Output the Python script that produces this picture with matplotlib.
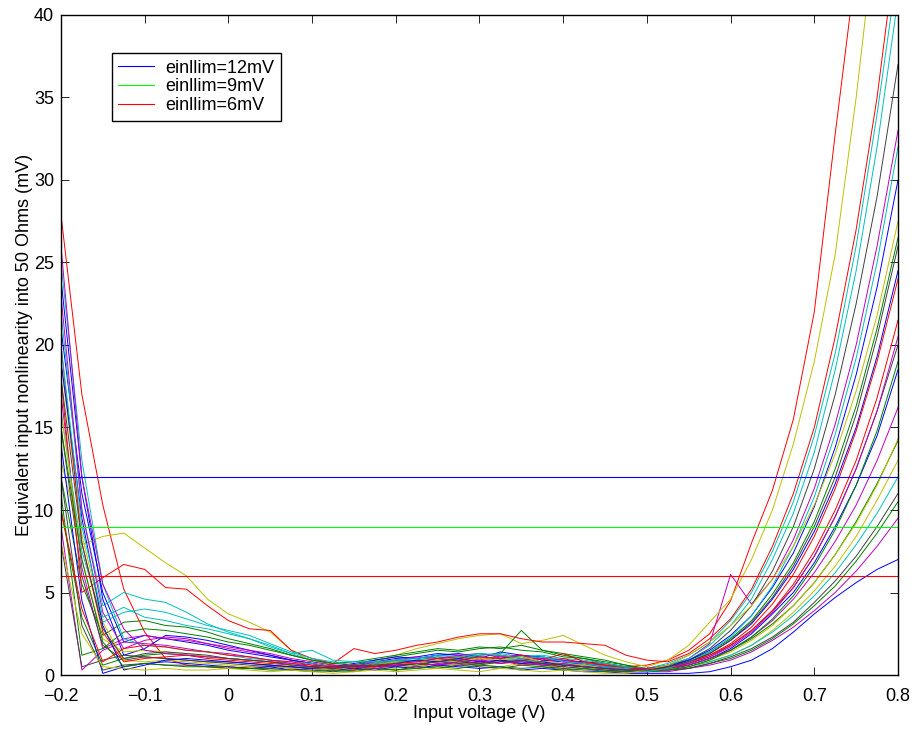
import matplotlib.pyplot as plt

plt.rcParams["font.family"] = ["Liberation Sans", "DejaVu Sans"]
plt.rcParams["font.size"] = 13

# input voltage grid (V)
voltage = [-0.2, -0.175, -0.15, -0.125, -0.1, -0.075, -0.05, -0.025, 0.0,
           0.025, 0.05, 0.075, 0.1, 0.125, 0.15, 0.175, 0.2, 0.225, 0.25,
           0.275, 0.3, 0.325, 0.35, 0.375, 0.4, 0.425, 0.45, 0.475,
           0.5, 0.525, 0.55, 0.575, 0.6, 0.625, 0.65, 0.675, 0.7, 0.725, 0.75, 0.775, 0.8]

# nonlinearity curves (mV), one per run
b1 = [21, 11, 5.0, 2.0, 2.4, 2.2, 2.0, 1.8, 1.5,
      1.3, 1.1, 0.9, 0.7, 0.5, 0.6, 0.8, 1.0, 1.1, 1.3, 1.2, 1.0, 1.4, 1.2, 1.1, 0.9, 0.8, 0.7, 0.5,
      0.3, 0.4, 0.8, 1.3, 2.1, 3.1, 4.6, 6.4, 8.7, 11.6, 15.0, 19.3, 24.5]
g1 = [12, 5.5, 2.4, 3.2, 3.3, 3.0, 2.9, 2.6, 2.2,
      1.9, 1.6, 1.2, 0.9, 0.7, 0.6, 0.9, 1.1, 1.3, 1.5, 1.4, 1.6, 1.7, 1.5, 1.4, 1.1, 1.0, 0.8, 0.6,
      0.4, 0.6, 0.9, 1.4, 2.2, 3.3, 4.9, 6.8, 9.3, 12.5, 16.3, 21.0, 26.5]
r1 = [27.9, 17, 10.3, 5.2, 2.6, 1.0, 0.6, 0.5, 0.4,
      0.5, 0.6, 0.4, 0.5, 0.4, 0.3, 0.5, 0.6, 0.7, 0.6, 0.8, 0.7, 0.9, 0.6, 0.7, 0.5, 0.8, 0.6, 0.5,
      0.6, 0.9, 1.5, 2.5, 4.5, 8.0, 11.2, 15.5, 22.0, 32.8, 43, 55, 68]
c1 = [22, 10, 4.2, 5.0, 4.6, 4.4, 3.8, 3.1, 2.6,
      2.2, 1.8, 1.3, 0.9, 0.6, 0.5, 0.7, 0.9, 1.0, 1.2, 1.1, 1.3, 1.2, 1.0, 1.1, 0.9, 0.7, 0.6, 0.4,
      0.4, 0.7, 1.2, 2.0, 3.3, 5.0, 7.5, 10.5, 14.5, 19.5, 26, 34, 43]
m1 = [17, 6.5, 1.6, 2.2, 2.4, 2.2, 2.1, 1.9, 1.6,
      1.4, 1.2, 0.9, 0.7, 0.5, 0.4, 0.6, 0.8, 0.7, 0.9, 1.0, 0.8, 1.1, 0.9, 1.0, 0.8, 0.6, 0.5, 0.3,
      0.3, 0.6, 1.0, 1.9, 6.1, 4.3, 5.8, 8.2, 11.3, 15.2, 20, 26, 33]
y1 = [13, 7.9, 8.4, 8.6, 7.7, 6.8, 6.0, 4.6, 3.7,
      3.2, 2.6, 1.5, 0.8, 0.6, 0.5, 0.8, 1.2, 1.6, 1.9, 2.2, 2.4, 2.5, 1.9, 2.1, 2.4, 1.8, 1.2, 0.8,
      0.5, 0.9, 1.8, 3.2, 4.6, 7.0, 10.0, 14.0, 19.0, 25.5, 35, 46, 58]
k1 = [15, 6.0, 1.8, 0.9, 1.1, 1.0, 0.9, 0.8, 0.7,
      0.6, 0.5, 0.5, 0.4, 0.3, 0.4, 0.5, 0.6, 0.7, 0.6, 0.8, 0.7, 0.9, 0.8, 0.7, 0.6, 0.5, 0.4, 0.3,
      0.3, 0.5, 0.9, 1.6, 2.7, 4.2, 6.3, 9.0, 12.5, 17.0, 22.5, 29, 37]
b2 = [24, 12, 4.6, 1.2, 1.6, 2.4, 2.3, 2.1, 1.8,
      1.5, 1.2, 0.9, 0.7, 0.5, 0.7, 0.9, 1.1, 1.0, 1.2, 1.3, 1.1, 1.0, 1.2, 0.9, 0.8, 0.7, 0.5, 0.4,
      0.2, 0.3, 0.6, 1.0, 1.6, 2.5, 3.7, 5.0, 6.8, 9.0, 11.5, 14.5, 18.5]
g2 = [10, 3.5, 0.6, 1.0, 1.2, 1.3, 1.2, 1.1, 1.0,
      0.9, 0.8, 0.6, 0.5, 0.4, 0.5, 0.6, 0.8, 0.9, 1.1, 1.0, 1.2, 1.3, 2.7, 1.5, 1.2, 1.0, 0.7, 0.5,
      0.3, 0.4, 0.6, 1.0, 1.5, 2.2, 3.1, 4.2, 5.6, 7.3, 9.3, 11.6, 14.2]
r2 = [18, 5.0, 5.9, 6.7, 6.4, 5.3, 5.2, 4.2, 3.3,
      2.8, 2.7, 1.5, 1.0, 0.7, 1.6, 1.3, 1.5, 1.8, 2.0, 2.3, 2.5, 2.5, 2.2, 2.0, 2.0, 1.9, 1.8, 1.2,
      0.9, 0.8, 1.3, 2.2, 3.4, 5.2, 7.8, 11.0, 15.0, 20.5, 27, 35, 45]
c2 = [16, 7.5, 3.2, 3.8, 4.0, 3.8, 3.4, 3.0, 2.7,
      2.4, 1.9, 1.4, 1.0, 0.8, 0.6, 0.7, 0.8, 0.9, 1.1, 1.0, 1.2, 1.3, 1.1, 1.2, 1.0, 0.9, 0.7, 0.5,
      0.3, 0.6, 1.0, 1.8, 3.0, 4.6, 7.0, 9.8, 13.5, 18.5, 24.5, 32, 41]
m2 = [9, 0.3, 1.5, 2.0, 1.9, 1.8, 1.6, 1.4, 1.3,
      1.1, 0.9, 0.7, 0.6, 0.5, 0.3, 0.5, 0.6, 0.5, 0.7, 0.6, 0.8, 0.7, 0.9, 0.6, 0.7, 0.5, 0.4, 0.2,
      0.2, 0.4, 0.6, 1.0, 1.5, 2.3, 3.3, 4.6, 6.2, 8.1, 10.3, 13.0, 16.2]
y2 = [19, 8.5, 3.2, 0.9, 0.8, 0.9, 0.8, 0.7, 0.6,
      0.5, 0.6, 0.4, 0.3, 0.4, 0.3, 0.5, 0.4, 0.6, 0.5, 0.7, 0.6, 0.5, 0.7, 0.6, 0.4, 0.5, 0.3, 0.2,
      0.3, 0.3, 0.5, 0.8, 1.2, 1.8, 2.7, 3.8, 5.1, 6.6, 8.4, 10.6, 13.0]
k2 = [8, 0.5, 0.9, 1.2, 1.1, 1.0, 0.9, 0.8, 0.8,
      0.7, 0.6, 0.5, 0.4, 0.5, 0.4, 0.6, 0.5, 0.7, 0.8, 0.7, 0.6, 0.8, 0.7, 0.6, 0.5, 0.4, 0.3, 0.2,
      0.3, 0.4, 0.7, 1.1, 1.8, 2.7, 3.9, 5.3, 7.2, 9.6, 12.5, 16.0, 20.0]
b3 = [14, 4.5, 0.1, 0.5, 0.7, 0.8, 0.7, 0.6, 0.5,
      0.4, 0.5, 0.3, 0.4, 0.3, 0.4, 0.3, 0.5, 0.4, 0.6, 0.5, 0.4, 0.5, 0.3, 0.4, 0.3, 0.2, 0.2, 0.1,
      0.1, 0.1, 0.1, 0.2, 0.5, 0.9, 1.6, 2.6, 3.7, 4.7, 5.6, 6.4, 7.0]
g3 = [11, 1.2, 1.6, 2.6, 2.8, 2.7, 2.5, 2.3, 2.0,
      1.8, 1.5, 1.2, 0.9, 0.7, 0.8, 1.0, 1.2, 1.4, 1.6, 1.5, 1.7, 1.6, 1.8, 1.5, 1.3, 1.1, 0.9, 0.6,
      0.3, 0.3, 0.4, 0.7, 1.0, 1.5, 2.2, 3.1, 4.2, 5.4, 6.9, 8.6, 10.5]
r3 = [20, 8.0, 2.6, 0.8, 1.0, 1.1, 1.2, 1.0, 0.9,
      0.8, 0.7, 0.6, 0.5, 0.6, 0.4, 0.7, 0.9, 0.8, 1.0, 1.1, 0.9, 1.2, 1.0, 0.8, 1.0, 0.7, 0.6, 0.4,
      0.4, 0.5, 0.8, 1.2, 1.8, 2.7, 3.9, 5.5, 7.5, 10.0, 13.0, 16.8, 21.5]
c3 = [25, 13, 5.5, 2.2, 1.8, 1.7, 1.5, 1.4, 1.2,
      1.0, 0.9, 0.8, 0.7, 0.5, 0.6, 0.7, 0.9, 0.8, 1.0, 0.9, 1.1, 1.0, 0.9, 0.8, 0.7, 0.6, 0.5, 0.3,
      0.2, 0.3, 0.5, 0.8, 1.2, 1.8, 2.6, 3.6, 4.8, 6.2, 7.9, 9.8, 12.0]
m3 = [23, 10, 3.8, 1.6, 2.1, 2.3, 2.2, 1.9, 1.7,
      1.5, 1.3, 1.0, 0.8, 0.6, 0.5, 0.8, 0.9, 1.1, 1.0, 1.2, 1.3, 1.1, 1.2, 1.0, 0.9, 0.7, 0.5, 0.4,
      0.2, 0.2, 0.4, 0.6, 0.9, 1.4, 2.1, 2.9, 3.9, 5.0, 6.3, 7.8, 9.5]
y3 = [16, 7.0, 2.2, 1.4, 1.5, 1.4, 1.3, 1.1, 1.0,
      0.9, 0.8, 0.6, 0.4, 0.3, 0.5, 0.6, 0.8, 0.7, 0.9, 0.8, 1.0, 0.9, 1.1, 0.8, 0.7, 0.6, 0.4, 0.3,
      0.2, 0.3, 0.5, 0.9, 1.4, 2.1, 3.0, 4.2, 5.6, 7.3, 9.2, 11.5, 14.3]
k3 = [12, 3.0, 0.3, 0.6, 0.7, 0.6, 0.6, 0.5, 0.5,
      0.4, 0.4, 0.3, 0.3, 0.2, 0.3, 0.4, 0.3, 0.5, 0.4, 0.6, 0.5, 0.4, 0.6, 0.5, 0.4, 0.3, 0.3, 0.2,
      0.2, 0.3, 0.4, 0.7, 1.1, 1.6, 2.3, 3.2, 4.4, 5.7, 7.2, 9.0, 11.0]
b4 = [19, 9.5, 3.0, 0.3, 0.6, 0.9, 1.0, 0.9, 0.8,
      0.7, 0.6, 0.5, 0.4, 0.5, 0.6, 0.5, 0.7, 0.9, 0.8, 1.0, 0.8, 0.9, 0.7, 0.8, 0.6, 0.5, 0.4, 0.3,
      0.3, 0.5, 0.9, 1.5, 2.4, 3.6, 5.3, 7.4, 10.2, 13.8, 18.2, 23.5, 30.0]
g4 = [15, 7.0, 2.0, 0.5, 0.7, 0.6, 0.5, 0.5, 0.4,
      0.4, 0.3, 0.3, 0.2, 0.3, 0.2, 0.4, 0.3, 0.4, 0.5, 0.4, 0.6, 0.5, 0.4, 0.5, 0.3, 0.4, 0.2, 0.2,
      0.2, 0.3, 0.5, 0.9, 1.5, 2.3, 3.4, 4.8, 6.6, 8.8, 11.5, 14.8, 19.0]
r4 = [10, 4.0, 0.8, 1.6, 1.8, 1.7, 1.5, 1.4, 1.2,
      1.1, 0.9, 0.8, 0.6, 0.5, 0.6, 0.5, 0.7, 0.8, 1.0, 0.9, 1.1, 1.0, 1.2, 0.9, 1.3, 0.8, 0.6, 0.4,
      0.3, 0.4, 0.7, 1.2, 1.9, 2.9, 4.3, 6.1, 8.4, 11.3, 14.8, 19.0, 24.0]
c4 = [20, 9.0, 3.5, 4.1, 3.5, 3.3, 3.0, 2.8, 2.5,
      2.2, 1.7, 1.3, 1.5, 0.9, 0.8, 0.8, 0.9, 1.0, 1.2, 1.1, 1.3, 1.2, 1.0, 1.1, 0.8, 0.7, 0.5, 0.4,
      0.2, 0.4, 0.8, 1.4, 2.3, 3.6, 5.4, 7.8, 10.8, 14.6, 19.2, 25.0, 32.0]
m4 = [26, 12, 5.5, 2.8, 1.5, 1.3, 1.2, 1.1, 1.0,
      0.9, 0.8, 0.7, 0.5, 0.4, 0.5, 0.4, 0.6, 0.7, 0.6, 0.8, 0.9, 0.7, 0.8, 0.6, 0.7, 0.5, 0.4, 0.3,
      0.4, 0.5, 0.7, 1.1, 1.7, 2.6, 3.8, 5.3, 7.2, 9.6, 12.5, 16.0, 20.5]
y4 = [8, 2.5, 0.5, 0.4, 0.3, 0.4, 0.3, 0.3, 0.4,
      0.3, 0.2, 0.3, 0.2, 0.1, 0.2, 0.3, 0.2, 0.3, 0.4, 0.3, 0.2, 0.4, 0.3, 0.2, 0.3, 0.2, 0.1, 0.1,
      0.3, 0.6, 1.2, 2.0, 3.0, 4.2, 5.8, 7.8, 10.3, 13.4, 17.2, 21.8, 27.5]
k4 = [18, 8.0, 2.8, 1.0, 1.3, 1.4, 1.3, 1.2, 1.0,
      0.9, 0.8, 0.6, 0.5, 0.4, 0.5, 0.6, 0.7, 0.6, 0.8, 0.9, 0.7, 0.8, 0.9, 0.7, 0.6, 0.5, 0.4, 0.3,
      0.3, 0.5, 0.8, 1.3, 2.1, 3.2, 4.7, 6.6, 9.0, 12.0, 15.8, 20.5, 26.0]

curves = [b1, g1, r1, c1, m1, y1, k1,
          b2, g2, r2, c2, m2, y2, k2,
          b3, g3, r3, c3, m3, y3, k3,
          b4, g4, r4, c4, m4, y4, k4]

# matlab default color order
line_colors = [(0, 0, 1), (0, 0.5, 0), (1, 0, 0), (0, 0.75, 0.75),
               (0.75, 0, 0.75), (0.75, 0.75, 0), (0.25, 0.25, 0.25)]

limits = [12, 9, 6]
limit_labels = ["einllim=12mV", "einllim=9mV", "einllim=6mV"]
limit_colors = ["#0000ff", "#00ff00", "#ff0000"]

xticks = [-0.2, -0.1, 0, 0.1, 0.2, 0.3, 0.4, 0.5, 0.6, 0.7, 0.8]
xticklabels = ["\u22120.2", "\u22120.1", "0", "0.1", "0.2", "0.3", "0.4", "0.5", "0.6", "0.7", "0.8"]
yticks = [0, 5, 10, 15, 20, 25, 30, 35, 40]

for c in curves:
    assert len(c) == len(voltage)

fig = plt.figure(figsize=(9.14, 7.31), dpi=100)
ax = fig.add_axes([0.0667, 0.0766, 0.9158, 0.9029])

for i, ys in enumerate(curves):
    ax.plot(voltage, ys, color=line_colors[i % 7], lw=0.7)

for lim, lab, col in zip(limits, limit_labels, limit_colors):
    ax.axhline(lim, color=col, lw=0.8, label=lab)

ax.set_xlim(-0.2, 0.8)
ax.set_ylim(0, 40)
ax.set_xticks(xticks)
ax.set_xticklabels(xticklabels)
ax.set_yticks(yticks)
ax.tick_params(direction="in", top=True, right=True, length=5.5, width=0.6)
ax.tick_params(axis="x", pad=9)
ax.tick_params(axis="y", pad=5)
for s in ax.spines.values():
    s.set_linewidth(1.0)

ax.set_xlabel("Input voltage (V)", labelpad=0)
ax.set_ylabel("Equivalent input nonlinearity into 50 Ohms (mV)", labelpad=1)

leg = ax.legend(loc="upper left", bbox_to_anchor=(0.061, 0.942), borderaxespad=0,
                fancybox=False, edgecolor="black", framealpha=1,
                handlelength=2.0, handletextpad=0.6, labelspacing=0.1, borderpad=0.35)
leg.get_frame().set_linewidth(1.0)

fig.savefig("out.png", dpi=100)
